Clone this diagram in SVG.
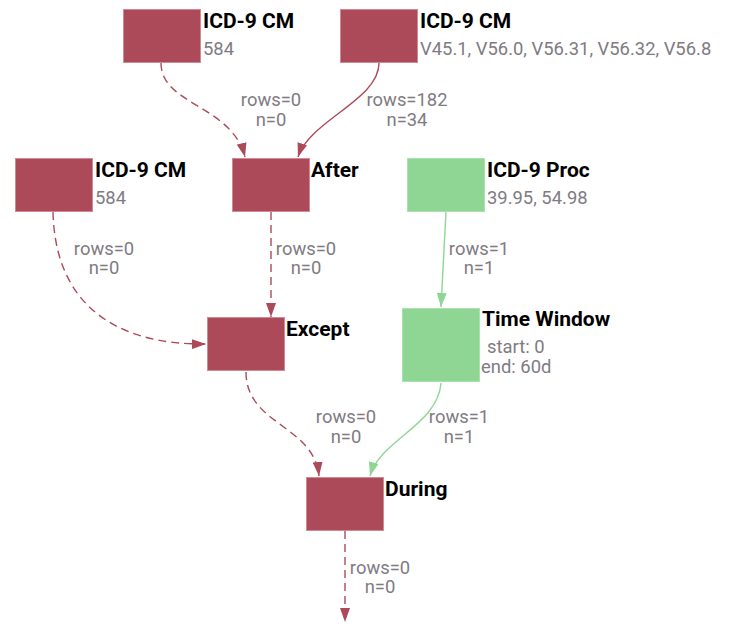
<svg xmlns="http://www.w3.org/2000/svg" width="729" height="629" viewBox="0 0 729 629">
<defs>
<marker id="ar" viewBox="0 0 14 10" refX="14" refY="5" markerWidth="14" markerHeight="10" markerUnits="userSpaceOnUse" orient="auto"><path d="M0,0 L14,5 L0,10 Z" fill="#ad4a5a"/></marker>
<marker id="ag" viewBox="0 0 14 10" refX="14" refY="5" markerWidth="14" markerHeight="10" markerUnits="userSpaceOnUse" orient="auto"><path d="M0,0 L14,5 L0,10 Z" fill="#8fd694"/></marker>
</defs>
<style>
.r{fill:#ad4a5a;stroke:#d08a96;stroke-width:1}
.g{fill:#8fd694;stroke:#a8e2ac;stroke-width:1}
.t{font-family:Roboto,"Liberation Sans",sans-serif;font-weight:bold;font-size:21px;fill:#000}
.s{font-family:Roboto,"Liberation Sans",sans-serif;font-size:18.4px;fill:#807b82}
.l{font-family:Roboto,"Liberation Sans",sans-serif;font-size:18.4px;fill:#807b82;text-anchor:middle}
.er{fill:none;stroke:#ad4a5a;stroke-width:1.4;marker-end:url(#ar)}
.eg{fill:none;stroke:#8fd694;stroke-width:1.4;marker-end:url(#ag)}
.d{stroke-dasharray:8,5}
</style>
<g id="connectors">
<path class="er d" d="M161,63 C161,105 232,105 245,157"/>
<text class="l" x="271" y="106">rows=0</text><text class="l" x="271" y="126">n=0</text>
<path class="er" d="M379,63 C379,100 310,120 298,157"/>
<text class="l" x="407" y="106">rows=182</text><text class="l" x="407" y="126">n=34</text>
<path class="er d" d="M53,212 C55,300 110,345 206,344"/>
<text class="l" x="104" y="255">rows=0</text><text class="l" x="104" y="274">n=0</text>
<path class="er d" d="M271,212 L271,317"/>
<text class="l" x="306" y="255">rows=0</text><text class="l" x="306" y="274">n=0</text>
<path class="eg" d="M446,212 L441,307"/>
<text class="l" x="479" y="255">rows=1</text><text class="l" x="479" y="274">n=1</text>
<path class="er d" d="M246,372 C246,425 314,425 319,476"/>
<text class="l" x="346" y="423">rows=0</text><text class="l" x="346" y="443">n=0</text>
<path class="eg" d="M441,383 C438,425 380,440 370,476"/>
<text class="l" x="459" y="423">rows=1</text><text class="l" x="459" y="443">n=1</text>
<path class="er d" d="M345,531 L345,622"/>
<text class="l" x="380" y="574">rows=0</text><text class="l" x="380" y="593">n=0</text>
</g>
<g id="cm1"><rect class="r" x="123.5" y="9.5" width="77" height="53"/><text class="t" x="203" y="28">ICD-9 CM</text><text class="s" x="203" y="55">584</text></g>
<g id="cm2"><rect class="r" x="340.5" y="9.5" width="77" height="53"/><text class="t" x="420" y="28">ICD-9 CM</text><text class="s" x="420" y="55">V45.1, V56.0, V56.31, V56.32, V56.8</text></g>
<g id="cm3"><rect class="r" x="15.5" y="158.5" width="77" height="53"/><text class="t" x="95" y="177">ICD-9 CM</text><text class="s" x="95" y="204">584</text></g>
<g id="after"><rect class="r" x="232.5" y="158.5" width="77" height="53"/><text class="t" x="311" y="177">After</text></g>
<g id="proc"><rect class="g" x="407.5" y="158.5" width="77" height="53"/><text class="t" x="487" y="177">ICD-9 Proc</text><text class="s" x="487" y="204">39.95, 54.98</text></g>
<g id="except"><rect class="r" x="207.5" y="317.5" width="77" height="53"/><text class="t" x="286" y="336">Except</text></g>
<g id="timewindow"><rect class="g" x="402.5" y="308.5" width="77" height="73"/><text class="t" x="482" y="326">Time Window</text><text class="s" x="487" y="353">start: 0</text><text class="s" x="481" y="373">end: 60d</text></g>
<g id="during"><rect class="r" x="306.5" y="477.5" width="77" height="53"/><text class="t" x="385" y="496">During</text></g>
</svg>
